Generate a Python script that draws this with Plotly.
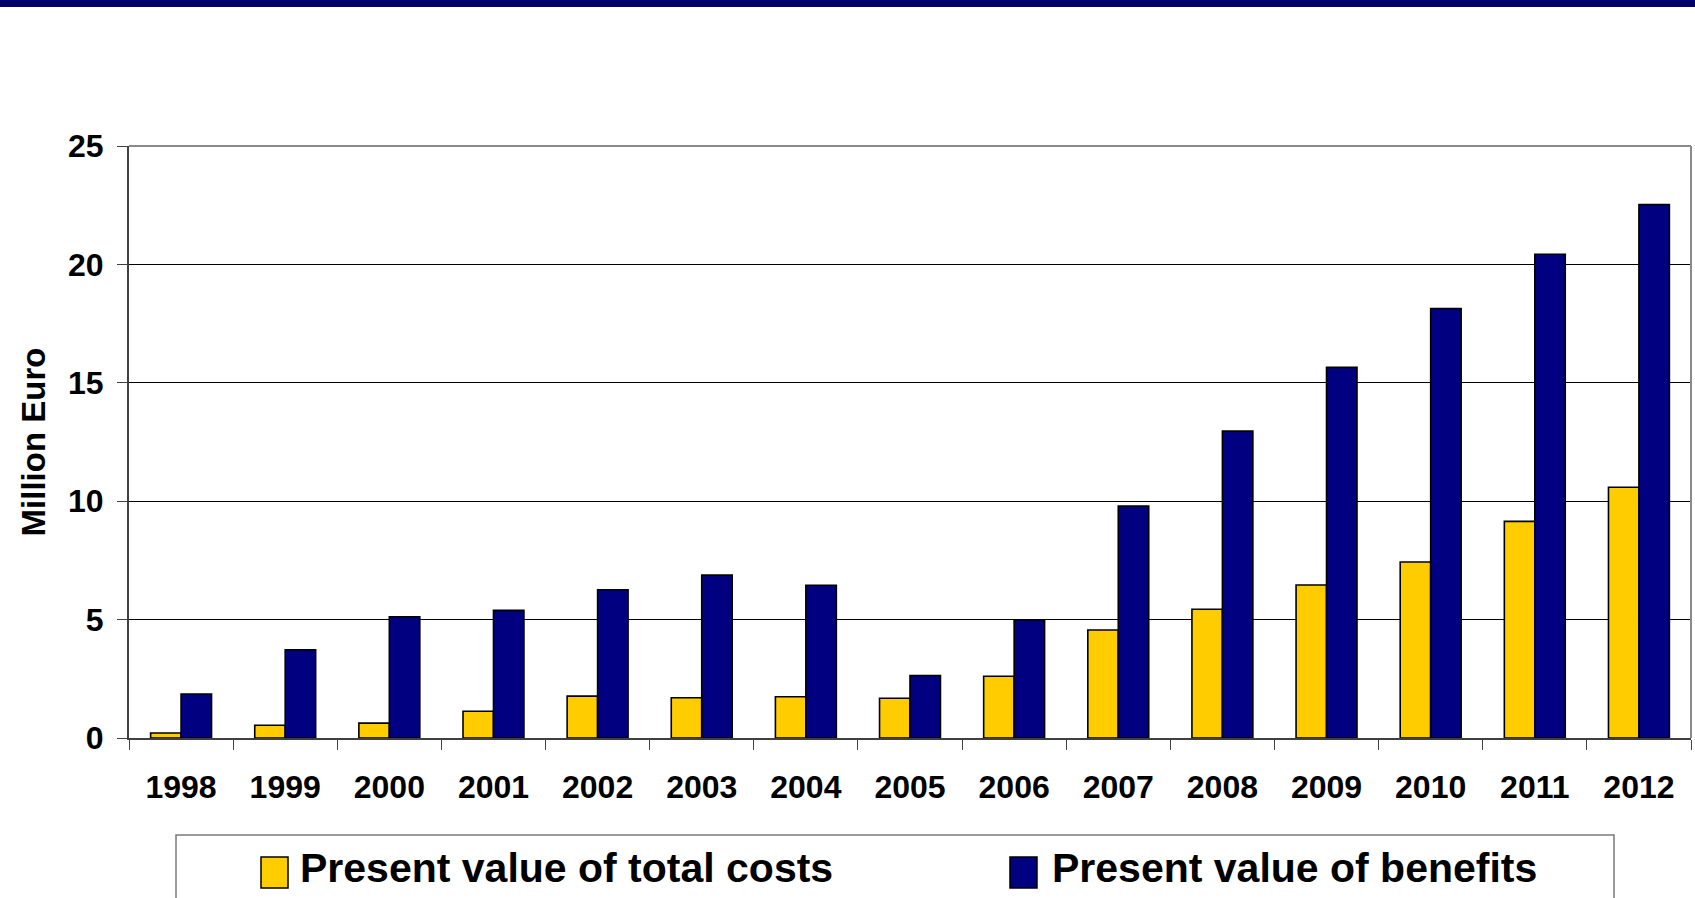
import plotly.graph_objects as go

# ---- data ----
years = ["1998", "1999", "2000", "2001", "2002", "2003", "2004", "2005",
         "2006", "2007", "2008", "2009", "2010", "2011", "2012"]
costs = [0.21, 0.54, 0.63, 1.13, 1.77, 1.70, 1.74, 1.68, 2.61, 4.56, 5.44,
         6.46, 7.43, 9.15, 10.59]
benefits = [1.86, 3.72, 5.12, 5.39, 6.26, 6.88, 6.45, 2.64, 4.98, 9.79, 12.96,
            15.65, 18.14, 20.43, 22.53]
series_names = ["Present value of total costs", "Present value of benefits"]
series_colors = ["#FFCC00", "#000080"]
y_title = "Million Euro"

# ---- geometry ----
W, H = 1695, 898
ML, MR, MT, MB = 129, 4, 146, 160
PW = W - ML - MR
PH = H - MT - MB


def px(x):
    return (x - ML) / PW


def py(y):
    return 1 - (y - MT) / PH


FONT = "Liberation Sans, Arial, sans-serif"

fig = go.Figure()
for name, vals, col in zip(series_names, [costs, benefits], series_colors):
    fig.add_trace(go.Bar(
        x=years, y=vals, name=name,
        marker=dict(color=col, line=dict(color="#000000", width=1.6)),
        showlegend=False,
    ))

fig.update_layout(
    width=W, height=H, autosize=False,
    margin=dict(l=ML, r=MR, t=MT, b=MB, pad=0),
    paper_bgcolor="white", plot_bgcolor="white",
    barmode="group", bargap=0.415, bargroupgap=0,
    font=dict(family=FONT, color="#000000"),
)

fig.update_xaxes(
    type="category", range=[-0.5, 14.5],
    showline=True, linecolor="#404040", linewidth=2,
    ticks="outside", tickson="boundaries", ticklen=10, tickcolor="#404040",
    tickwidth=1, showgrid=False,
    tickfont=dict(family=FONT, size=32, weight="bold", color="#000000"),
    ticklabelstandoff=20,
)
fig.update_yaxes(
    range=[0, 25], dtick=5, tick0=0,
    showline=True, linecolor="#404040", linewidth=2,
    ticks="outside", ticklen=10, tickcolor="#404040", tickwidth=1,
    showgrid=True, gridcolor="#000000", gridwidth=1, zeroline=False,
    tickfont=dict(family=FONT, size=32, weight="bold", color="#000000"),
    ticklabelstandoff=7,
    title=dict(text=y_title, standoff=12,
               font=dict(family=FONT, size=33, weight="bold", color="#000000")),
)

shapes = []
# top navy band
shapes.append(dict(type="rect", xref="paper", yref="paper",
                   x0=px(-5), x1=px(W + 5), y0=py(7), y1=py(-5),
                   fillcolor="#000066", line=dict(width=0), layer="above"))
# grey top & right border of plot
shapes.append(dict(type="line", xref="paper", yref="paper",
                   x0=0, x1=1, y0=1, y1=1,
                   line=dict(color="#8a8a8a", width=2), layer="above"))
shapes.append(dict(type="line", xref="paper", yref="paper",
                   x0=1, x1=1, y0=0, y1=1,
                   line=dict(color="#8a8a8a", width=2), layer="above"))
# legend box
shapes.append(dict(type="rect", xref="paper", yref="paper",
                   x0=px(176), x1=px(1614), y0=py(910), y1=py(835),
                   fillcolor="white", line=dict(color="#7a7a7a", width=1.5),
                   layer="above"))
annotations = []
sq_x = [261, 1010]
txt_x = [298, 1050]
for i in range(2):
    shapes.append(dict(type="rect", xref="paper", yref="paper",
                       x0=px(sq_x[i]), x1=px(sq_x[i] + 27),
                       y0=py(888), y1=py(857),
                       fillcolor=series_colors[i],
                       line=dict(color="#000000", width=1.5), layer="above"))
    annotations.append(dict(
        xref="paper", yref="paper", x=px(txt_x[i]), y=py(868),
        xanchor="left", yanchor="middle", showarrow=False,
        text=series_names[i],
        font=dict(family=FONT, size=41, weight="bold", color="#000000"),
    ))

fig.update_layout(shapes=shapes, annotations=annotations)

fig.write_html(
    "out.html",
    config={"displayModeBar": False},
    post_script="document.body.style.margin='0';document.body.style.overflow='hidden';",
)
